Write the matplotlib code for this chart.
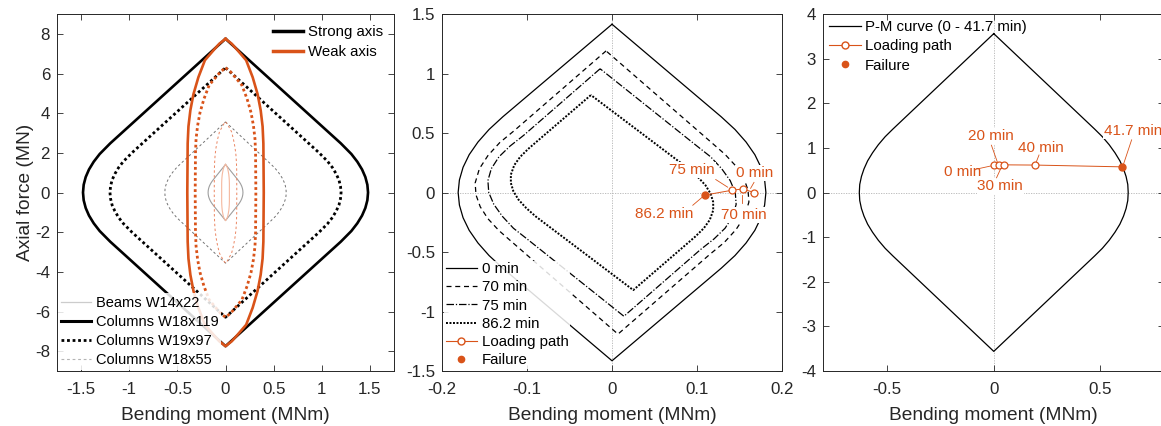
import numpy as np
import matplotlib
matplotlib.use('Agg')
import matplotlib.pyplot as plt
from matplotlib.lines import Line2D
from matplotlib.ticker import FuncFormatter, FixedLocator

plt.rcParams['font.family'] = ['Liberation Sans', 'DejaVu Sans']
plt.rcParams['axes.unicode_minus'] = False

ORANGE = '#D95319'
AXC = '#262626'

# ---------------- Panel 1: quarter curves (P >= 0, M >= 0), mirrored ----------------
# strong axis
s119_P = [0, 0.39, 0.78, 1.16, 1.55, 1.94, 2.48, 7.75]
s119_M = [1.48, 1.473, 1.452, 1.418, 1.369, 1.307, 1.197, 0]
s97_P = [0, 0.31, 0.63, 0.94, 1.26, 1.57, 2.01, 6.29]
s97_M = [1.20, 1.194, 1.178, 1.149, 1.110, 1.060, 0.970, 0]
s55_P = [0, 0.18, 0.36, 0.53, 0.71, 0.89, 1.07, 1.25, 1.42, 3.56]
s55_M = [0.63, 0.628, 0.620, 0.608, 0.591, 0.568, 0.541, 0.509, 0.473, 0]
s22_P = [0, 0.106, 0.212, 0.318, 0.424, 0.530, 0.636, 1.414]
s22_M = [0.181, 0.1795, 0.1752, 0.168, 0.1577, 0.1446, 0.1285, 0]
# weak axis
w119_P = [0, 2.48, 3.33, 4.15, 4.96, 5.81, 6.67, 7.16, 7.50, 7.75]
w119_M = [0.397, 0.393, 0.385, 0.365, 0.333, 0.282, 0.214, 0.127, 0.065, 0]
w97_P = [0, 2.01, 2.70, 3.37, 4.03, 4.72, 5.41, 5.81, 6.09, 6.29]
w97_M = [0.315, 0.312, 0.306, 0.290, 0.265, 0.224, 0.170, 0.101, 0.052, 0]
w55_P = [0, 1.14, 1.53, 1.90, 2.28, 2.67, 3.06, 3.29, 3.45, 3.56]
w55_M = [0.117, 0.116, 0.113, 0.108, 0.098, 0.083, 0.063, 0.037, 0.019, 0]
w22_P = [0, 0.45, 0.61, 0.76, 0.91, 1.07, 1.22, 1.31, 1.37, 1.42]
w22_M = [0.040, 0.040, 0.039, 0.037, 0.034, 0.028, 0.022, 0.013, 0.007, 0]

# ---------------- Panel 2: left halves (top vertex -> bottom vertex), point-symmetric ----
t0_P = s22_P
t0_M = s22_M
t70_M = [-0.007, -0.115, -0.132, -0.146, -0.156, -0.161, -0.160, -0.155, -0.146, -0.133, -0.117, 0.007]
t70_P = [1.19, 0.52, 0.42, 0.31, 0.20, 0.08, -0.02, -0.12, -0.22, -0.32, -0.42, -1.19]
t75_M = [-0.014, -0.104, -0.120, -0.133, -0.142, -0.146, -0.145, -0.139, -0.129, -0.116, -0.100, 0.014]
t75_P = [1.04, 0.48, 0.39, 0.30, 0.20, 0.10, 0.00, -0.10, -0.20, -0.30, -0.39, -1.04]
t86_M = [-0.025, -0.098, -0.108, -0.115, -0.119, -0.119, -0.116, -0.110, -0.101, -0.090, 0.025]
t86_P = [0.818, 0.37, 0.30, 0.23, 0.15, 0.08, 0.01, -0.06, -0.13, -0.20, -0.82]
path2_M = [0.167, 0.154, 0.141, 0.109]
path2_P = [0.000, 0.030, 0.019, -0.022]
path2_lbl = ['0 min', '70 min', '75 min', '86.2 min']

# ---------------- Panel 3 ----------------
pm3_P = s55_P
pm3_M = s55_M
path3_M = [0.001, 0.023, 0.046, 0.192, 0.602]
path3_P = [0.62, 0.62, 0.62, 0.615, 0.575]
path3_lbl = ['0 min', '20 min', '30 min', '40 min', '41.7 min']


def full_sym(M, P):
    M = np.asarray(M, float)
    P = np.asarray(P, float)
    Mr = np.concatenate([M[::-1], M[1:]])
    Pr = np.concatenate([P[::-1], -P[1:]])
    Mx = np.concatenate([Mr, -Mr[::-1][1:]])
    Px = np.concatenate([Pr, Pr[::-1][1:]])
    return Mx, Px


def point_sym(M, P):
    M = np.asarray(M, float)
    P = np.asarray(P, float)
    return np.concatenate([M, -M[1:]]), np.concatenate([P, -P[1:]])


fmt = FuncFormatter(lambda v, p: ('%g' % round(v, 6)))


def style_axes(ax, xt, yt, xl, yl):
    ax.set_xlim(*xl)
    ax.set_ylim(*yl)
    ax.xaxis.set_major_locator(FixedLocator(xt))
    ax.yaxis.set_major_locator(FixedLocator(yt))
    ax.xaxis.set_major_formatter(fmt)
    ax.yaxis.set_major_formatter(fmt)
    ax.tick_params(direction='in', top=True, right=True, length=4, width=0.6,
                   labelsize=12.2, colors=AXC, pad=5)
    ax.tick_params(axis='x', pad=8)
    for s in ax.spines.values():
        s.set_color(AXC)
        s.set_linewidth(0.7)
    ax.set_xlabel('Bending moment (MNm)', fontsize=13.8, color=AXC, labelpad=7)


fig = plt.figure(figsize=(11.61, 4.26), dpi=100)
ax1 = fig.add_axes([0.0491, 0.1291, 0.2903, 0.8380])
ax2 = fig.add_axes([0.3807, 0.1291, 0.2929, 0.8380])
ax3 = fig.add_axes([0.7089, 0.1291, 0.2941, 0.8380])

# ---------------- Panel 1 ----------------
c22s = (0.62, 0.62, 0.62)
c55s = (0.45, 0.45, 0.45)
c22w = (0.96, 0.72, 0.62)
c55w = (0.92, 0.52, 0.38)
ax1.plot(*full_sym(s22_M, s22_P), color=c22s, lw=0.8)
ax1.plot(*full_sym(s55_M, s55_P), color=c55s, lw=0.7, ls=(0, (2.5, 2.5)))
ax1.plot(*full_sym(s97_M, s97_P), color='k', lw=2.0, ls=(0, (1, 1)))
ax1.plot(*full_sym(s119_M, s119_P), color='k', lw=1.9)
ax1.plot(*full_sym(w22_M, w22_P), color=c22w, lw=0.8)
ax1.plot(*full_sym(w55_M, w55_P), color=c55w, lw=0.7, ls=(0, (2.5, 2.5)))
ax1.plot(*full_sym(w97_M, w97_P), color=ORANGE, lw=2.0, ls=(0, (1, 1)))
ax1.plot(*full_sym(w119_M, w119_P), color=ORANGE, lw=1.9)
style_axes(ax1, [-1.5, -1, -0.5, 0, 0.5, 1, 1.5], list(range(-8, 9, 2)), (-1.75, 1.75), (-9, 9))
ax1.set_ylabel('Axial force (MN)', fontsize=13.8, color=AXC, labelpad=1)

h_top = [Line2D([], [], color='k', lw=2.5), Line2D([], [], color=ORANGE, lw=2.5)]
leg1 = ax1.legend(h_top, ['Strong axis', 'Weak axis'], loc='upper right', frameon=False,
                  fontsize=10.8, handlelength=2.0, handletextpad=0.3, borderaxespad=0.55,
                  borderpad=0.2, labelspacing=0.4)
ax1.add_artist(leg1)
h_bot = [Line2D([], [], color=(0.8, 0.8, 0.8), lw=0.9),
         Line2D([], [], color='k', lw=2.2),
         Line2D([], [], color='k', lw=2.0, ls=(0, (1, 1))),
         Line2D([], [], color=(0.7, 0.7, 0.7), lw=0.8, ls=(0, (2.5, 2.5)))]
leg2 = ax1.legend(h_bot, ['Beams W14x22', 'Columns W18x119', 'Columns W19x97', 'Columns W18x55'],
                  loc='lower left', frameon=True, fontsize=10.5, handlelength=2.1, handletextpad=0.3,
                  borderaxespad=0.1, borderpad=0.15, labelspacing=0.36, framealpha=0.85)
leg2.get_frame().set_edgecolor('none')
leg2.get_frame().set_facecolor('white')
leg2.get_frame().set_boxstyle('square', pad=0.0)

# ---------------- Panel 2 ----------------
ax2.axhline(0, color=(0.7, 0.7, 0.7), lw=0.6, ls=(0, (1.5, 1.5)), zorder=1)
ax2.axvline(0, color=(0.7, 0.7, 0.7), lw=0.6, ls=(0, (1.5, 1.5)), zorder=1)
l0, = ax2.plot(*full_sym(t0_M, t0_P), color='k', lw=0.9)
l70, = ax2.plot(*point_sym(t70_M, t70_P), color='k', lw=0.9, ls=(0, (4, 3)))
l75, = ax2.plot(*point_sym(t75_M, t75_P), color='k', lw=0.9, ls=(0, (6, 1.5, 1, 1.5)))
l86, = ax2.plot(*point_sym(t86_M, t86_P), color='k', lw=1.4, ls=(0, (1, 0.8)))
ax2.plot(path2_M, path2_P, color=ORANGE, lw=0.7, zorder=5)
ax2.plot(path2_M[:-1], path2_P[:-1], ls='none', marker='o', ms=5, mfc='white', mec=ORANGE,
         mew=0.9, zorder=6)
ax2.plot(path2_M[-1:], path2_P[-1:], ls='none', marker='o', ms=5, mfc=ORANGE, mec=ORANGE, zorder=6)
style_axes(ax2, [-0.2, -0.1, 0, 0.1, 0.2], [-1.5, -1, -0.5, 0, 0.5, 1, 1.5], (-0.2, 0.2), (-1.5, 1.5))

ann_kw = dict(color=ORANGE, fontsize=11, ha='center', va='center', zorder=4,
              bbox=dict(facecolor='white', edgecolor='none', pad=0.6))
# label positions / leader lines (data coordinates)
ax2.text(0.168, 0.165, path2_lbl[0], **ann_kw)
ax2.plot([0.167, 0.163], [0.085, 0.035], color=ORANGE, lw=0.6, zorder=5)
ax2.text(0.094, 0.187, path2_lbl[2], **ann_kw)
ax2.plot([0.122, 0.136], [0.109, 0.045], color=ORANGE, lw=0.6, zorder=5)
ax2.text(0.155, -0.19, path2_lbl[1], **ann_kw)
ax2.plot([0.153, 0.153], [-0.02, -0.09], color=ORANGE, lw=0.6, zorder=5)
ax2.text(0.0615, -0.177, path2_lbl[3], **ann_kw)
ax2.plot([0.095, 0.106], [-0.107, -0.04], color=ORANGE, lw=0.6, zorder=5)

h2 = [l0, l70, l75, l86,
      Line2D([], [], color=ORANGE, lw=0.8, marker='o', ms=5, mfc='white', mec=ORANGE),
      Line2D([], [], color=ORANGE, ls='none', marker='o', ms=4.5, mfc=ORANGE, mec=ORANGE)]
leg3 = ax2.legend(h2, ['0 min', '70 min', '75 min', '86.2 min', 'Loading path', 'Failure'],
                  loc='lower left', frameon=True, fontsize=10.8, handlelength=2.1, handletextpad=0.3,
                  borderaxespad=0.15, borderpad=0.1, labelspacing=0.28, framealpha=0.85)
leg3.get_frame().set_edgecolor('none')
leg3.get_frame().set_boxstyle('square', pad=0.0)

# ---------------- Panel 3 ----------------
ax3.axhline(0, color=(0.7, 0.7, 0.7), lw=0.6, ls=(0, (1.5, 1.5)), zorder=1)
ax3.axvline(0, color=(0.7, 0.7, 0.7), lw=0.6, ls=(0, (1.5, 1.5)), zorder=1)
lp, = ax3.plot(*full_sym(pm3_M, pm3_P), color='k', lw=0.9)
ax3.plot(path3_M, path3_P, color=ORANGE, lw=0.7, zorder=5)
ax3.plot(path3_M[:-1], path3_P[:-1], ls='none', marker='o', ms=5, mfc='white', mec=ORANGE,
         mew=0.9, zorder=6)
ax3.plot(path3_M[-1:], path3_P[-1:], ls='none', marker='o', ms=5, mfc=ORANGE, mec=ORANGE, zorder=6)
style_axes(ax3, [-0.5, 0, 0.5], list(range(-4, 5)), (-0.8, 0.8), (-4, 4))

ax3.text(-0.144, 0.458, path3_lbl[0], **ann_kw)
ax3.plot([-0.085, -0.004], [0.52, 0.605], color=ORANGE, lw=0.6, zorder=5)
ax3.text(-0.0155, 1.27, path3_lbl[1], **ann_kw)
ax3.plot([-0.011, 0.017], [1.06, 0.68], color=ORANGE, lw=0.6, zorder=5)
ax3.text(0.031, 0.14, path3_lbl[2], **ann_kw)
ax3.plot([0.036, 0.013], [0.57, 0.33], color=ORANGE, lw=0.6, zorder=5)
ax3.text(0.219, 0.99, path3_lbl[3], **ann_kw)
ax3.plot([0.199, 0.212], [0.68, 0.84], color=ORANGE, lw=0.6, zorder=5)
ax3.text(0.654, 1.384, path3_lbl[4], **ann_kw)
ax3.plot([0.607, 0.646], [0.62, 1.18], color=ORANGE, lw=0.6, zorder=5)

h3 = [lp,
      Line2D([], [], color=ORANGE, lw=0.8, marker='o', ms=5, mfc='white', mec=ORANGE),
      Line2D([], [], color=ORANGE, ls='none', marker='o', ms=4.5, mfc=ORANGE, mec=ORANGE)]
leg4 = ax3.legend(h3, ['P-M curve (0 - 41.7 min)', 'Loading path', 'Failure'],
                  loc='upper left', frameon=False, fontsize=10.8, handlelength=2.1,
                  handletextpad=0.3, borderaxespad=0.2, borderpad=0.2, labelspacing=0.35)

fig.savefig('out.png', dpi=100)
